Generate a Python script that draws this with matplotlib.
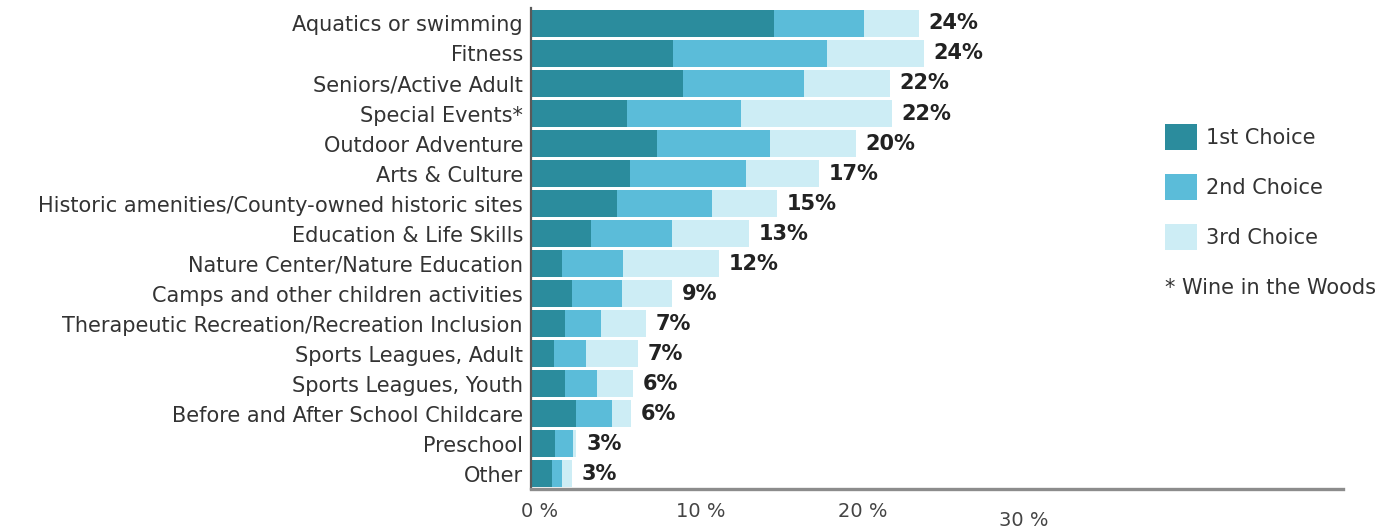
import matplotlib
matplotlib.use("Agg")
import numpy as np
import matplotlib.pyplot as plt
import matplotlib.transforms as mtransforms

# ---------------------------------------------------------------------------
# data (percent of respondents)
# ---------------------------------------------------------------------------

CATEGORIES = [
    "Aquatics or swimming",
    "Fitness",
    "Seniors/Active Adult",
    "Special Events*",
    "Outdoor Adventure",
    "Arts & Culture",
    "Historic amenities/County-owned historic sites",
    "Education & Life Skills",
    "Nature Center/Nature Education",
    "Camps and other children activities",
    "Therapeutic Recreation/Recreation Inclusion",
    "Sports Leagues, Adult",
    "Sports Leagues, Youth",
    "Before and After School Childcare",
    "Preschool",
    "Other",
]

FIRST  = [15.0, 8.8, 9.4, 5.9, 7.8, 6.1, 5.3, 3.7, 1.9, 2.5, 2.1, 1.4, 2.1, 2.8, 1.5, 1.3]
SECOND = [5.6, 9.5, 7.5, 7.1, 7.0, 7.2, 5.9, 5.0, 3.8, 3.1, 2.2, 2.0, 2.0, 2.2, 1.1, 0.6]
THIRD  = [3.4, 6.0, 5.3, 9.3, 5.3, 4.5, 4.0, 4.8, 5.9, 3.1, 2.8, 3.2, 2.2, 1.2, 0.2, 0.6]

TOTAL_LABELS = [24, 24, 22, 22, 20, 17, 15, 13, 12, 9, 7, 7, 6, 6, 3, 3]

SERIES_NAMES = ["1st Choice", "2nd Choice", "3rd Choice"]
X_TICKS = [0, 10, 20, 30]
FOOTNOTE = "* Wine in the Woods"

# ---------------------------------------------------------------------------
# style
# ---------------------------------------------------------------------------

COLORS = ["#2b8c9d", "#5bbcd9", "#cdedf5"]
TEXT_COLOR = "#333333"
LABEL_SIZE = 15

plt.rcParams["font.family"] = ["DejaVu Sans"]

fig = plt.figure(figsize=(13.87, 5.31), dpi=100)
ax = fig.add_axes([0.383, 0.080, 0.585, 0.904])

y = np.arange(len(CATEGORIES))
first = np.array(FIRST)
second = np.array(SECOND)
third = np.array(THIRD)

bars = []
left = np.zeros(len(y))
for vals, col, name in zip([first, second, third], COLORS, SERIES_NAMES):
    b = ax.barh(y, vals, left=left, height=0.9, color=col, label=name,
                edgecolor="none")
    bars.append(b)
    left = left + vals

# value labels at the end of each stacked bar
for yi, tot, lab in zip(y, left, TOTAL_LABELS):
    ax.annotate(f"{lab}%", xy=(tot, yi), xytext=(7, 0),
                textcoords="offset points", va="center", ha="left",
                fontsize=15, fontweight="bold", color="#222222")

ax.set_ylim(len(y) - 0.5, -0.5)
ax.set_xlim(0, 50.2)

ax.set_yticks(y)
ax.set_yticklabels(CATEGORIES, fontsize=LABEL_SIZE, color=TEXT_COLOR)
ax.tick_params(axis="y", length=0, pad=6)

ax.set_xticks(X_TICKS)
ax.set_xticklabels([f"{t} %" for t in X_TICKS], fontsize=14, color="#444444")
ax.tick_params(axis="x", length=0, pad=10)
# the 30 % label sits a little lower in the original
ax.xaxis.get_major_ticks()[-1].set_pad(16)
shift = mtransforms.ScaledTranslation(8 / 100, 0, fig.dpi_scale_trans)
for lbl in ax.get_xticklabels():
    lbl.set_transform(lbl.get_transform() + shift)

for side in ["top", "right"]:
    ax.spines[side].set_visible(False)
ax.spines["bottom"].set_color("#8c8c8c")
ax.spines["bottom"].set_linewidth(2.4)
ax.spines["left"].set_color("#5a5a5a")
ax.spines["left"].set_linewidth(1.6)

leg = fig.legend(handles=bars, labels=SERIES_NAMES,
                 loc="upper left", bbox_to_anchor=(1165 / 1387, 1 - 124 / 531),
                 frameon=False, fontsize=LABEL_SIZE, borderpad=0, borderaxespad=0,
                 handlelength=1.55, handleheight=1.55, handletextpad=0.4,
                 labelspacing=1.15)
for t in leg.get_texts():
    t.set_color(TEXT_COLOR)

fig.text(1165 / 1387, 1 - 288 / 531, FOOTNOTE, fontsize=LABEL_SIZE,
         color=TEXT_COLOR, va="center", ha="left")

fig.savefig("out.png", dpi=100)
